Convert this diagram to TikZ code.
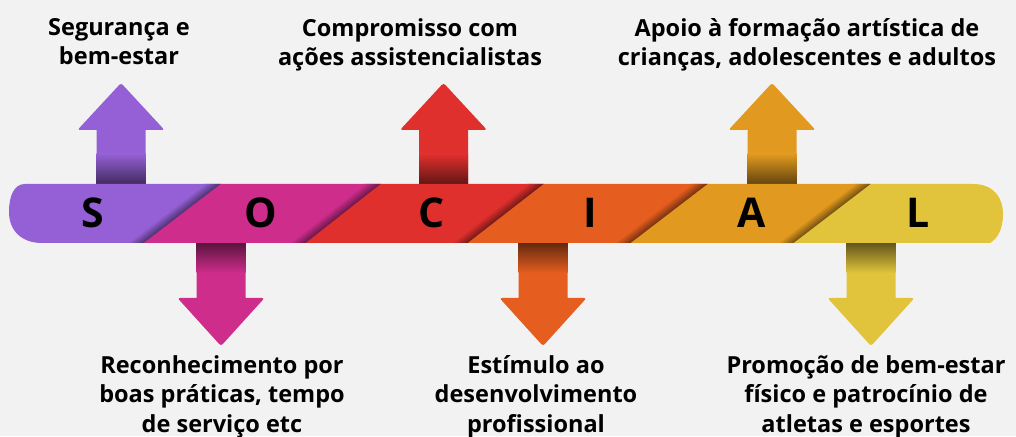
\documentclass[tikz,border=0pt]{standalone}
\usepackage{fontspec}
\setmainfont{Open Sans}
\definecolor{bgc}{HTML}{F2F2F2}
\definecolor{cS}{HTML}{9560D6}
\definecolor{cO}{HTML}{CE2D8C}
\definecolor{cC}{HTML}{E0302D}
\definecolor{cI}{HTML}{E55E1F}
\definecolor{cA}{HTML}{E19A1F}
\definecolor{cL}{HTML}{E1C43C}
\begin{document}
\begin{tikzpicture}[x=1pt,y=1pt,
  lbl/.style={font=\fontsize{23.5}{29.5}\selectfont\bfseries, align=center, anchor=north, inner sep=0pt, text=black},
  letter/.style={font=\fontsize{41}{41}\selectfont\bfseries, inner sep=0pt, text=black}]
\fill[bgc] (0,0) rectangle (1016,436);
\useasboundingbox (0,0) rectangle (1016,436);
% up arrows
\foreach \cx/\c in {121/cS,443.5/cC,772/cA}{
  \fill[\c] (\cx-24.5,250) -- (\cx-24.5,306)
     [rounded corners=2.5pt] -- (\cx-43.5,306) -- (\cx,353) -- (\cx+43.5,306) [sharp corners] -- (\cx+24.5,306) -- (\cx+24.5,250) -- cycle;
  \shade[top color=\c, bottom color=\c!40!black] (\cx-24.5,250) rectangle (\cx+24.5,282);
}
% down arrows
\foreach \cx/\c in {221/cO,543/cI,871/cL}{
  \fill[\c] (\cx-24.5,195) -- (\cx-24.5,138)
     [rounded corners=2.5pt] -- (\cx-43.5,138) -- (\cx,90) -- (\cx+43.5,138) [sharp corners] -- (\cx+24.5,138) -- (\cx+24.5,195) -- cycle;
  \shade[bottom color=\c, top color=\c!40!black] (\cx-24.5,163) rectangle (\cx+24.5,195);
}
% bar
\begin{scope}
\path[clip] (25,252) -- (973,252) .. controls (994,252) and (1003,238) .. (1003,222)
   .. controls (1003,206) and (997,197) .. (990,193) -- (42,193)
   .. controls (22,193) and (9,205) .. (9,224) .. controls (9,240) and (14,252) .. (25,252) -- cycle;
\fill[cS] (0,193) -- (143,193) -- (220,252) -- (0,252) -- cycle;
\fill[cO] (143,193) -- (305,193) -- (380,252) -- (220,252) -- cycle;
\fill[cC] (305,193) -- (467,193) -- (543,252) -- (380,252) -- cycle;
\fill[cI] (467,193) -- (630,193) -- (707,252) -- (543,252) -- cycle;
\fill[cA] (630,193) -- (793,193) -- (870,252) -- (707,252) -- cycle;
\fill[cL] (793,193) -- (1016,193) -- (1016,252) -- (870,252) -- cycle;
\foreach \bb/\bt/\c in {143/220/cS,305/380/cO,467/543/cC,630/707/cI,793/870/cA}{
  \begin{scope}[transform canvas={shift={(\bb,193)}, xslant={(\bt-\bb)/59}}]
    \shade[left color=\c, right color=\c!50!black] (-16,0) rectangle (0.5,59);
  \end{scope}
}
\end{scope}
% letters
\node[letter] (lS) at (93,223) {S};
\node[letter] (lO) at (261,223) {O};
\node[letter] (lC) at (432,223) {C};
\node[letter] (lI) at (590,223) {I};
\node[letter] (lA) at (752,223) {A};
\node[letter] (lL) at (918,223) {L};
% labels
\node[lbl] (tS) at (119,418) {Segurança e\\bem-estar};
\node[lbl] (tC) at (410,418) {Compromisso com\\ações assistencialistas};
\node[lbl] (tA) at (807,418) {Apoio à formação artística de\\crianças, adolescentes e adultos};
\node[lbl] (tO) at (222,81) {Reconhecimento por\\boas práticas, tempo\\de serviço etc};
\node[lbl] (tI) at (536,81) {Estímulo ao\\desenvolvimento\\profissional};
\node[lbl] (tL) at (866,81) {Promoção de bem-estar\\físico e patrocínio de\\atletas e esportes};
\end{tikzpicture}
\end{document}
